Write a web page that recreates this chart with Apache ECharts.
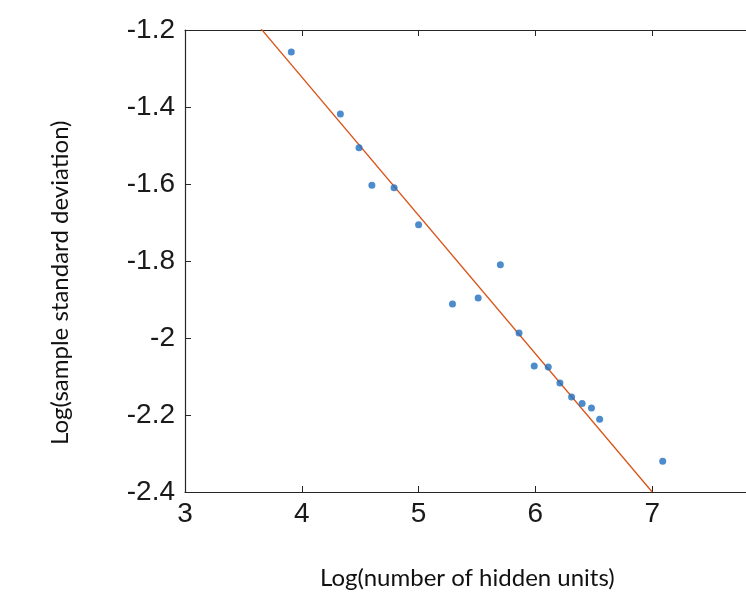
<!DOCTYPE html>
<html>
<head>
<meta charset="utf-8">
<script src="https://cdn.jsdelivr.net/npm/echarts@6/dist/echarts.min.js"></script>
<style>
  html, body { margin: 0; padding: 0; background: #fff; }
  #chart { width: 746px; height: 600px; }
</style>
</head>
<body>
<div id="chart"></div>
<script>
// measured points (log hidden units, log sample std)
const xVals = [3.91, 4.33, 4.49, 4.60, 4.79, 5.00, 5.29, 5.51, 5.70, 5.86, 5.99, 6.11, 6.21, 6.31, 6.40, 6.48, 6.55, 7.09]
const yVals = [-1.257, -1.418, -1.506, -1.603, -1.610, -1.706, -1.912, -1.896, -1.810, -1.987, -2.073, -2.075, -2.117, -2.153, -2.170, -2.182, -2.211, -2.320]
// fitted line end points
const fitX = [3, 7]
const fitY = [-0.963, -2.4]
const xTicks = [3, 4, 5, 6, 7, 8]
const yTicks = [-2.4, -2.2, -2, -1.8, -1.6, -1.4, -1.2]

const axisColor = '#262626'
const tickFont = { fontFamily: 'Liberation Sans', fontSize: 28, color: '#1a1a1a' }

const chart = echarts.init(document.getElementById('chart'))
chart.setOption({
  backgroundColor: '#fff',
  animation: false,
  // plot box runs past the right edge of the picture
  grid: { left: 185, top: 30, width: 584, height: 462, outerBoundsMode: 'none', containLabel: false },
  xAxis: [
    {
      type: 'value',
      min: xTicks[0],
      max: xTicks[xTicks.length - 1],
      interval: 1,
      axisLine: { lineStyle: { color: axisColor, width: 1.2 } },
      axisTick: { inside: true, length: 6, lineStyle: { color: axisColor } },
      axisLabel: Object.assign({ margin: 8 }, tickFont),
      splitLine: { show: false }
    },
    {
      type: 'value',
      position: 'top',
      min: xTicks[0],
      max: xTicks[xTicks.length - 1],
      interval: 1,
      axisLine: { show: true, lineStyle: { color: axisColor, width: 1.2 } },
      axisTick: { show: true, inside: true, length: 6, lineStyle: { color: axisColor } },
      axisLabel: { show: false },
      splitLine: { show: false }
    }
  ],
  yAxis: {
    type: 'value',
    min: yTicks[0],
    max: yTicks[yTicks.length - 1],
    interval: 0.2,
    axisLine: { show: true, lineStyle: { color: axisColor, width: 1.2 } },
    axisTick: { show: true, inside: true, length: 6, lineStyle: { color: axisColor } },
    axisLabel: Object.assign({ margin: 10, formatter: v => String(Math.round(v * 10) / 10) }, tickFont),
    splitLine: { show: false }
  },
  graphic: [
    {
      type: 'text',
      left: 320,
      top: 566,
      style: { text: 'Log(number of hidden units)', font: '24px Lato', fill: '#111' }
    },
    {
      type: 'text',
      x: 48,
      y: 445,
      rotation: Math.PI / 2,
      style: { text: 'Log(sample standard deviation)', font: '24px Lato', fill: '#111', textVerticalAlign: 'top' }
    }
  ],
  series: [
    {
      type: 'line',
      data: fitX.map((x, i) => [x, fitY[i]]),
      symbol: 'none',
      clip: true,
      lineStyle: { color: '#D95319', width: 1.3 },
      z: 2
    },
    {
      type: 'scatter',
      data: xVals.map((x, i) => [x, yVals[i]]),
      symbolSize: 7,
      itemStyle: { color: '#1f6fbf' },
      z: 3
    }
  ]
})
</script>
</body>
</html>
